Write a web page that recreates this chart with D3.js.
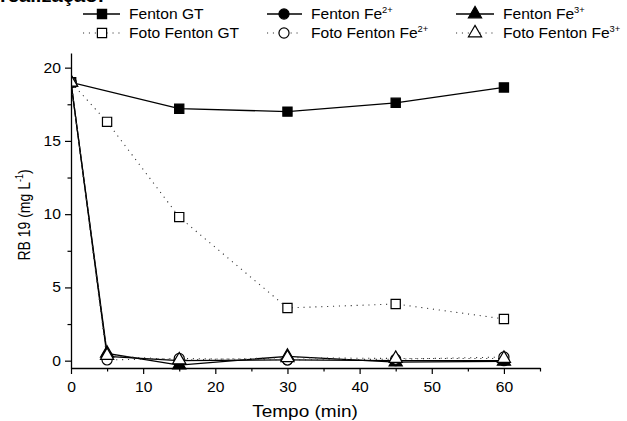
<!DOCTYPE html>
<html>
<head>
<meta charset="utf-8">
<script src="https://cdn.jsdelivr.net/npm/d3@7"></script>
<style>
  body { margin: 0; background: #fff; }
  text { font-family: "Liberation Sans", Arial, sans-serif; fill: #000; }
</style>
</head>
<body>
<svg id="chart" width="627" height="421"></svg>
<script>
// time points (min)
const tempo = [0, 5, 15, 30, 45, 60];

// RB 19 concentration (mg L-1)
const fentonGT      = [19.0, null, 17.2, 17.0, 17.6, 18.65];
const fotoFentonGT  = [19.0, 16.3, 9.8, 3.6, 3.87, 2.85];
const fentonFe2     = [19.0, 0.3, 0.0, 0.05, 0.0, 0.0];
const fentonFe3     = [19.0, 0.5, -0.3, 0.3, -0.1, -0.05];
const fotoFentonFe2 = [19.0, 0.05, 0.15, 0.05, 0.1, 0.25];
const fotoFentonFe3 = [19.0, 0.35, 0.05, 0.2, 0.15, 0.15];

const xMajor = [0, 10, 20, 30, 40, 50, 60];
const xMinor = [5, 15, 25, 35, 45, 55, 65];
const yMajor = [0, 5, 10, 15, 20];
const yMinor = [2.5, 7.5, 12.5, 17.5];

// series list: name, superscript, values, marker, filled, dotted
const series = [
  {name: "Fenton GT", sup: "", vals: fentonGT, shape: "square", filled: true, dotted: false},
  {name: "Fenton Fe", sup: "2+", vals: fentonFe2, shape: "circle", filled: true, dotted: false},
  {name: "Fenton Fe", sup: "3+", vals: fentonFe3, shape: "triangle", filled: true, dotted: false},
  {name: "Foto Fenton GT", sup: "", vals: fotoFentonGT, shape: "square", filled: false, dotted: true},
  {name: "Foto Fenton Fe", sup: "2+", vals: fotoFentonFe2, shape: "circle", filled: false, dotted: true},
  {name: "Foto Fenton Fe", sup: "3+", vals: fotoFentonFe3, shape: "triangle", filled: false, dotted: true}
];

const sx = 1.12; // picture is a bit wider than tall, stretch text to match

const svg = d3.select("#chart");

const x = d3.scaleLinear().domain([0, 65]).range([71, 540]);
const y = d3.scaleLinear().domain([-0.5, 21]).range([368, 53]);

// cropped heading on top (cut off in the original too)
svg.append("text")
  .attr("transform", "translate(0,2) scale(" + sx + ",1)")
  .style("font-size", "18px")
  .style("font-weight", "bold")
  .text("realização:");

// marker path generator
function markerPath(shape) {
  if (shape === "square") return d3.symbol().type(d3.symbolSquare).size(85)();
  if (shape === "circle") return d3.symbol().type(d3.symbolCircle).size(80)();
  return d3.symbol().type(d3.symbolTriangle).size(75)();
}

// clip for plot
svg.append("clipPath").attr("id", "plotclip")
  .append("rect").attr("x", 71).attr("y", 40).attr("width", 480).attr("height", 340);

const plot = svg.append("g").attr("clip-path", "url(#plotclip)");

const line = d3.line()
  .x(d => x(d[0]))
  .y(d => y(d[1]));

// lines first
series.forEach(s => {
  const pts = tempo.map((t, i) => [t, s.vals[i]]).filter(d => d[1] !== null);
  plot.append("path")
    .datum(pts)
    .attr("fill", "none")
    .attr("stroke", s.dotted ? "#333" : "#000")
    .attr("stroke-width", s.dotted ? 1.1 : 1.3)
    .attr("stroke-dasharray", s.dotted ? "1.1,4.8" : null)
    .attr("d", line);
});

// markers, filled ones under the open ones
series.forEach(s => {
  const pts = tempo.map((t, i) => [t, s.vals[i]]).filter(d => d[1] !== null);
  plot.selectAll(null)
    .data(pts)
    .enter()
    .append("path")
    .attr("transform", d => "translate(" + x(d[0]) + "," + y(d[1]) + ")")
    .attr("d", markerPath(s.shape))
    .attr("fill", s.filled ? "#000" : "#fff")
    .attr("stroke", "#000")
    .attr("stroke-width", 1.2);
});

// axes
const xAxis = svg.append("g")
  .attr("transform", "translate(0,368)")
  .call(d3.axisBottom(x).tickValues(xMajor).tickSize(6).tickPadding(8).tickSizeOuter(0));
svg.append("g")
  .attr("transform", "translate(0,368)")
  .call(d3.axisBottom(x).tickValues(xMinor).tickSize(3.5).tickFormat("").tickSizeOuter(0))
  .select(".domain").remove();

const yAxis = svg.append("g")
  .attr("transform", "translate(71,0)")
  .call(d3.axisLeft(y).tickValues(yMajor).tickSize(6).tickPadding(3).tickSizeOuter(0));
svg.append("g")
  .attr("transform", "translate(71,0)")
  .call(d3.axisLeft(y).tickValues(yMinor).tickSize(3.5).tickFormat("").tickSizeOuter(0))
  .select(".domain").remove();

svg.selectAll(".domain").attr("stroke-width", 1.3);
svg.selectAll(".tick line").attr("stroke-width", 1.2);

xAxis.selectAll("text")
  .style("font-size", "14px")
  .attr("font-family", null)
  .attr("transform", "scale(" + sx + ",1)");
yAxis.selectAll("text")
  .style("font-size", "14px")
  .attr("font-family", null)
  .attr("transform", "scale(" + sx + ",1)");
svg.selectAll(".tick text").attr("fill", "#000");

// axis titles
svg.append("text")
  .attr("transform", "translate(305,417) scale(" + sx + ",1)")
  .attr("text-anchor", "middle")
  .style("font-size", "17px")
  .text("Tempo (min)");

const yt = svg.append("text")
  .attr("transform", "translate(30,215) rotate(-90) scale(1," + sx + ")")
  .attr("text-anchor", "middle")
  .style("font-size", "14px");
yt.append("tspan").text("RB 19 (mg L");
yt.append("tspan").attr("dy", -6).style("font-size", "9px").text("-1");
yt.append("tspan").attr("dy", 6).text(")");

// legend
const legCols = [
  {x0: 83, x1: 120, mx: 102, tx: 129},
  {x0: 267, x1: 302, mx: 284, tx: 311},
  {x0: 456, x1: 494, mx: 475, tx: 503}
];
const legRows = [14, 33];

series.forEach((s, i) => {
  const c = legCols[i % 3];
  const ry = legRows[Math.floor(i / 3)];
  const g = svg.append("g");
  g.append("line")
    .attr("x1", c.x0).attr("x2", c.x1)
    .attr("y1", ry).attr("y2", ry)
    .attr("stroke", s.dotted ? "#333" : "#000")
    .attr("stroke-width", s.dotted ? 1.1 : 1.3)
    .attr("stroke-dasharray", s.dotted ? "1.1,4.8" : null);
  g.append("path")
    .attr("transform", "translate(" + c.mx + "," + ry + ")")
    .attr("d", markerPath(s.shape))
    .attr("fill", s.filled ? "#000" : "#fff")
    .attr("stroke", "#000")
    .attr("stroke-width", 1.2);
  const t = g.append("text")
    .attr("transform", "translate(" + c.tx + "," + (ry + 5) + ") scale(1.04,1)")
    .style("font-size", "15px");
  t.append("tspan").text(s.name);
  if (s.sup) t.append("tspan").attr("dy", -6).style("font-size", "9px").text(s.sup);
});
</script>
</body>
</html>
